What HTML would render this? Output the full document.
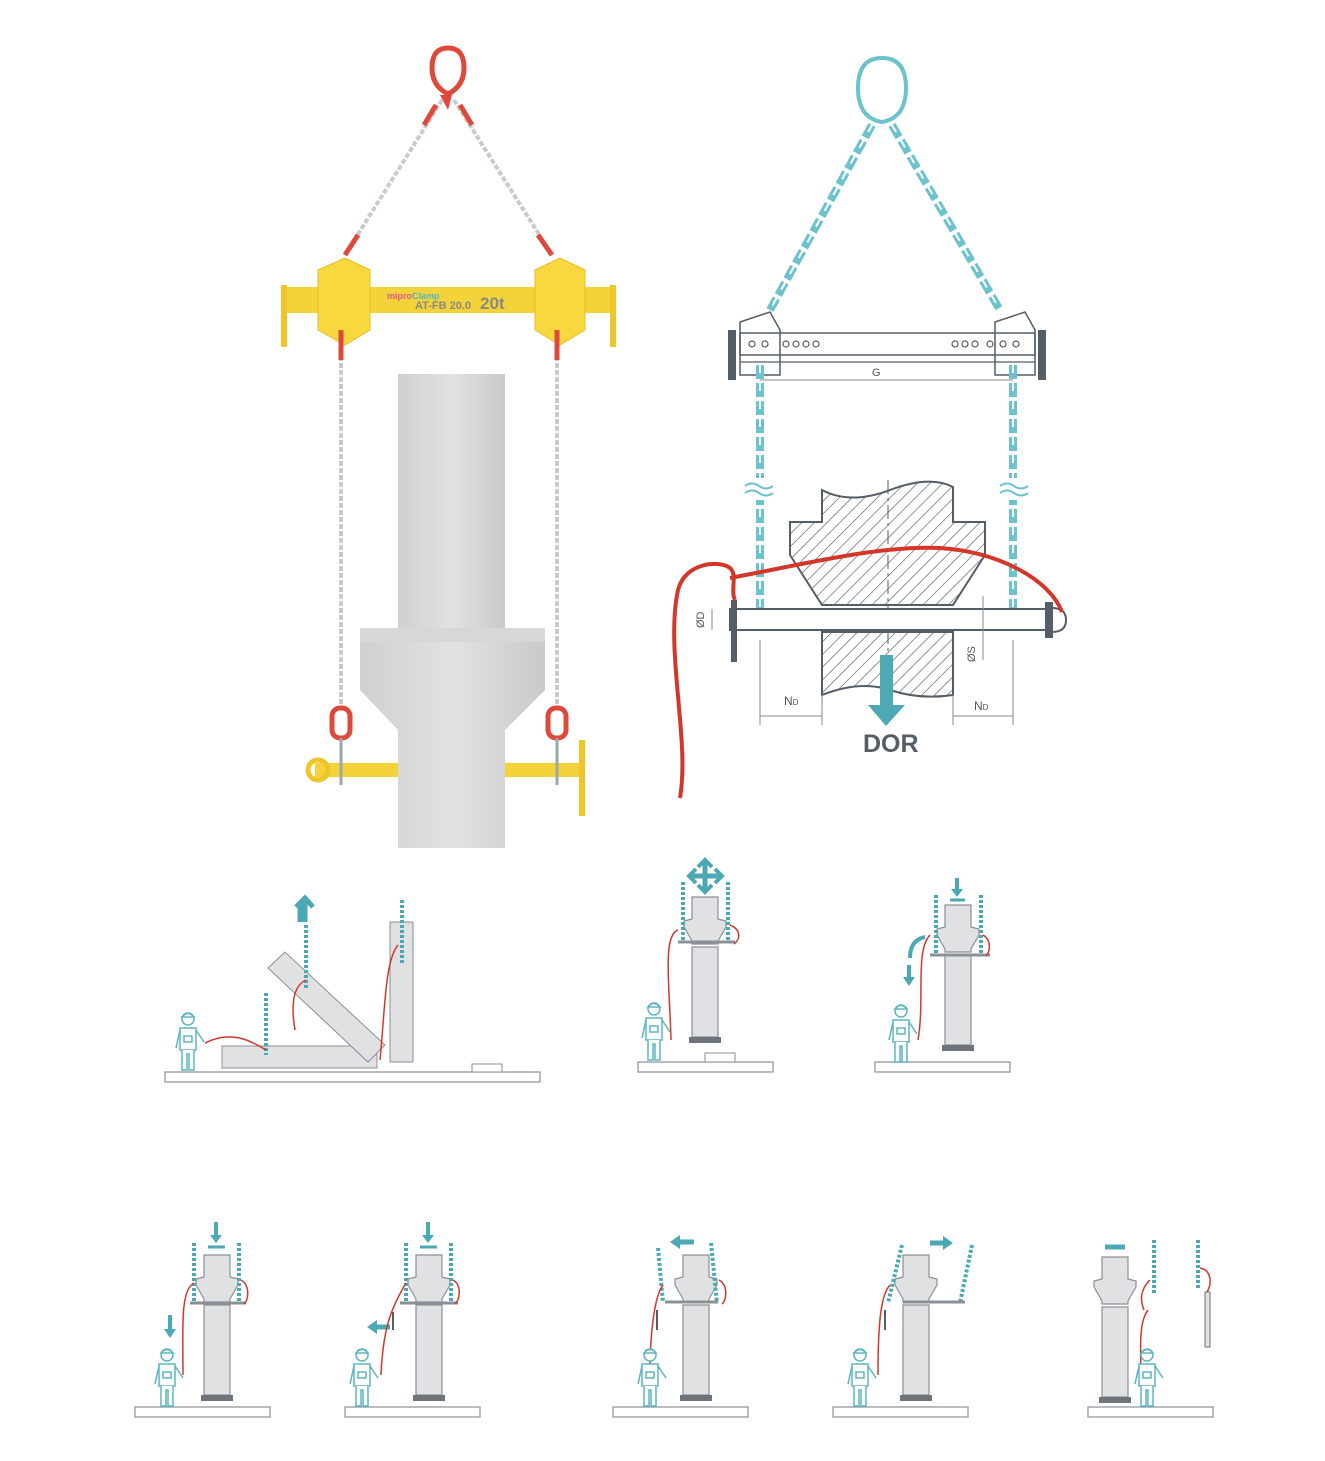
<!DOCTYPE html>
<html><head><meta charset="utf-8"><style>
html,body{margin:0;padding:0;background:#fff;}
svg{display:block;font-family:"Liberation Sans",sans-serif;}
</style></head><body>
<svg width="1325" height="1461" viewBox="0 0 1325 1461" xmlns="http://www.w3.org/2000/svg">
<defs>
<pattern id="hatch" width="9" height="9" patternUnits="userSpaceOnUse" patternTransform="rotate(45)">
<rect width="9" height="9" fill="#fff"/><line x1="0" y1="0" x2="0" y2="9" stroke="#555d66" stroke-width="1.3"/>
</pattern>
<linearGradient id="conc" x1="0" x2="1"><stop offset="0" stop-color="#cfd0cf"/><stop offset="0.5" stop-color="#e2e2e1"/><stop offset="1" stop-color="#c9cac9"/></linearGradient>
<g id="col">
<path d="M0 0H26V22L34 24V30L26 44V47H0V44L-8 30V24L0 22Z" fill="#dfe1e3" stroke="#8a9096" stroke-width="1.2"/>
<rect x="0" y="50" width="26" height="90" fill="#dfe1e3" stroke="#8a9096" stroke-width="1.2"/>
<rect x="-3" y="140" width="32" height="6" fill="#6e747a"/>
</g>
<g id="worker" fill="#fff" stroke="#5bb5c1" stroke-width="1.5">
<circle cx="12" cy="9" r="6"/><path d="M6 7 Q12 0 18 7Z"/>
<path d="M4 18 H20 V40 H4Z"/><path d="M6 40 V60 H11 V44 H13 V60 H18 V40"/>
<path d="M4 20 L0 38 M20 20 L28 32"/><rect x="8" y="26" width="8" height="6"/>
</g>
<g id="base"><rect x="0" y="0" width="135" height="10" fill="#fff" stroke="#8a9096" stroke-width="1.2"/></g>
</defs>

<!-- ===== Top left photo ===== -->
<g>
<path d="M448 48 q-16 0 -16 20 q0 18 16 26 q16 -8 16 -26 q0 -20 -16 -20z" fill="none" stroke="#e0483c" stroke-width="5"/>
<path d="M440 95 L452 95 L448 110Z" fill="#e0483c"/>
<line x1="442" y1="100" x2="345" y2="255" stroke="#c8ccd0" stroke-width="4" stroke-dasharray="5 2"/>
<line x1="454" y1="100" x2="552" y2="255" stroke="#c8ccd0" stroke-width="4" stroke-dasharray="5 2"/>
<line x1="436" y1="105" x2="424" y2="125" stroke="#e0483c" stroke-width="5"/>
<line x1="460" y1="105" x2="472" y2="125" stroke="#e0483c" stroke-width="5"/>
<line x1="345" y1="255" x2="358" y2="235" stroke="#e0483c" stroke-width="5"/>
<line x1="552" y1="255" x2="538" y2="235" stroke="#e0483c" stroke-width="5"/>
<rect x="283" y="287" width="332" height="26" fill="#f4d23a"/>
<rect x="281" y="285" width="6" height="62" fill="#efc629"/>
<rect x="610" y="285" width="6" height="62" fill="#efc629"/>
<path d="M318 270 L345 258 L370 270 V330 L345 345 L318 330Z" fill="#f7d83f" stroke="#e7bd22"/>
<path d="M535 270 L560 258 L585 270 V330 L560 345 L535 330Z" fill="#f7d83f" stroke="#e7bd22"/>
<text x="387" y="299" font-size="9" font-weight="bold" fill="#e35a8a">mipro<tspan fill="#4fb8c8">Clamp</tspan></text>
<text x="415" y="309" font-size="11" font-weight="bold" fill="#8a8a80">AT-FB 20.0</text>
<text x="480" y="309" font-size="17" font-weight="bold" fill="#8a8a80">20t</text>
<line x1="341" y1="335" x2="341" y2="710" stroke="#c8ccd0" stroke-width="4" stroke-dasharray="5 2"/>
<line x1="557" y1="335" x2="557" y2="710" stroke="#c8ccd0" stroke-width="4" stroke-dasharray="5 2"/>
<line x1="341" y1="330" x2="341" y2="360" stroke="#e0483c" stroke-width="5"/>
<line x1="557" y1="330" x2="557" y2="360" stroke="#e0483c" stroke-width="5"/>
<rect x="398" y="374" width="107" height="474" fill="url(#conc)"/>
<path d="M360 628 H545 V690 L505 730 V848 H398 V730 L360 690Z" fill="url(#conc)"/>
<rect x="360" y="628" width="185" height="14" fill="#d6d7d6"/>
<rect x="332" y="708" width="18" height="30" rx="8" fill="none" stroke="#e0483c" stroke-width="5"/>
<rect x="548" y="708" width="18" height="30" rx="8" fill="none" stroke="#e0483c" stroke-width="5"/>
<rect x="315" y="763" width="83" height="14" fill="#f4d23a"/>
<rect x="505" y="763" width="80" height="14" fill="#f4d23a"/>
<circle cx="318" cy="770" r="10" fill="none" stroke="#efc629" stroke-width="5"/>
<rect x="579" y="740" width="6" height="76" fill="#efc629"/>
<line x1="341" y1="738" x2="341" y2="785" stroke="#9aa" stroke-width="3"/>
<line x1="557" y1="738" x2="557" y2="785" stroke="#9aa" stroke-width="3"/>
</g>

<!-- ===== Top right technical drawing ===== -->
<g fill="none">
<path d="M882 58 q-24 0 -24 30 q0 30 24 34 q24 -4 24 -34 q0 -30 -24 -30z" stroke="#6cc3cd" stroke-width="4"/>
<line x1="872" y1="125" x2="770" y2="310" stroke="#6cc3cd" stroke-width="8" stroke-dasharray="14 4"/>
<line x1="892" y1="125" x2="1000" y2="310" stroke="#6cc3cd" stroke-width="8" stroke-dasharray="14 4"/>
<line x1="872" y1="125" x2="770" y2="310" stroke="#fff" stroke-width="2" stroke-dasharray="8 10"/>
<line x1="892" y1="125" x2="1000" y2="310" stroke="#fff" stroke-width="2" stroke-dasharray="8 10"/>
<rect x="740" y="333" width="295" height="22" stroke="#555d66" stroke-width="1.5"/>
<line x1="740" y1="362" x2="1035" y2="362" stroke="#555d66" stroke-width="1.2"/>
<line x1="760" y1="380" x2="1013" y2="380" stroke="#888" stroke-width="1"/>
<text x="872" y="376" font-size="11" fill="#555" stroke="none">G</text>
<path d="M740 322 L770 312 L780 330 V375 L740 375Z" stroke="#555d66" stroke-width="1.5"/>
<path d="M995 322 L1025 312 L1035 330 V375 L995 375Z" stroke="#555d66" stroke-width="1.5"/>
<rect x="728" y="330" width="8" height="50" fill="#555d66"/>
<rect x="1038" y="330" width="8" height="50" fill="#555d66"/>
<g stroke="#555d66" stroke-width="1.2"><circle cx="752" cy="344" r="3"/><circle cx="765" cy="344" r="3"/><circle cx="786" cy="344" r="3"/><circle cx="796" cy="344" r="3"/><circle cx="806" cy="344" r="3"/><circle cx="816" cy="344" r="3"/><circle cx="955" cy="344" r="3"/><circle cx="965" cy="344" r="3"/><circle cx="975" cy="344" r="3"/><circle cx="990" cy="344" r="3"/><circle cx="1003" cy="344" r="3"/><circle cx="1016" cy="344" r="3"/></g>
<line x1="760" y1="365" x2="760" y2="620" stroke="#6cc3cd" stroke-width="8" stroke-dasharray="14 4"/>
<line x1="1013" y1="365" x2="1013" y2="620" stroke="#6cc3cd" stroke-width="8" stroke-dasharray="14 4"/>
<line x1="760" y1="365" x2="760" y2="620" stroke="#fff" stroke-width="2" stroke-dasharray="8 10"/>
<line x1="1013" y1="365" x2="1013" y2="620" stroke="#fff" stroke-width="2" stroke-dasharray="8 10"/>
<rect x="748" y="478" width="24" height="22" fill="#fff" stroke="none"/>
<rect x="1001" y="478" width="24" height="22" fill="#fff" stroke="none"/>
<path d="M745 486 q7 -5 14 0 t14 0 M745 493 q7 -5 14 0 t14 0" stroke="#6cc3cd" stroke-width="2"/>
<path d="M1000 486 q7 -5 14 0 t14 0 M1000 493 q7 -5 14 0 t14 0" stroke="#6cc3cd" stroke-width="2"/>
<path d="M822 490 Q850 505 890 490 T953 487 V522 H985 V555 L953 605 H822 L790 555 V522 H822Z" fill="url(#hatch)" stroke="#555d66" stroke-width="2"/>
<path d="M822 632 H953 V695 Q920 700 890 690 T822 695Z" fill="url(#hatch)" stroke="#555d66" stroke-width="2"/>
<line x1="888" y1="480" x2="888" y2="690" stroke="#555d66" stroke-width="1" stroke-dasharray="14 4 3 4"/>
<rect x="730" y="609" width="320" height="21" fill="#fff" stroke="#555d66" stroke-width="2"/>
<rect x="731" y="600" width="6" height="62" fill="#555d66"/>
<path d="M1045 602 h8 v36 h-8z" fill="#555d66"/>
<path d="M1052 608 q14 0 14 12 q0 12 -14 12" stroke="#555d66" stroke-width="2"/>
<g stroke="#888" stroke-width="1">
<line x1="760" y1="640" x2="760" y2="725"/><line x1="822" y1="695" x2="822" y2="725"/>
<line x1="953" y1="695" x2="953" y2="725"/><line x1="1013" y1="640" x2="1013" y2="725"/>
<line x1="760" y1="716" x2="822" y2="716"/><line x1="953" y1="716" x2="1013" y2="716"/>
<line x1="712" y1="609" x2="712" y2="630"/><line x1="983" y1="596" x2="983" y2="660"/>
</g>
<text x="784" y="705" font-size="12" fill="#555" stroke="none">N<tspan font-size="8">D</tspan></text>
<text x="974" y="710" font-size="12" fill="#555" stroke="none">N<tspan font-size="8">D</tspan></text>
<text x="704" y="628" font-size="11" fill="#555" stroke="none" transform="rotate(-90 704 628)">ØD</text>
<text x="975" y="662" font-size="11" fill="#555" stroke="none" transform="rotate(-90 975 662)">ØS</text>
<rect x="880" y="655" width="13" height="50" fill="#4fa9b5" stroke="none"/>
<path d="M868 705 H905 L886 726Z" fill="#4fa9b5" stroke="none"/>
<text x="863" y="752" font-size="25" font-weight="bold" fill="#555d66" stroke="none">DOR</text>
<path d="M680 798 C690 740 665 650 678 590 C685 562 720 560 730 568 C738 575 730 590 735 600 M730 578 C800 565 880 545 940 548 C1000 552 1050 580 1062 612" stroke="#d4372a" stroke-width="4"/>
</g>

<!-- ===== Row 1, panel A (tilting) ===== -->
<g>
<rect x="165" y="1072" width="375" height="10" fill="#fff" stroke="#8a9096" stroke-width="1.2"/>
<rect x="222" y="1046" width="155" height="22" fill="#dfe1e3" stroke="#8a9096"/>
<path d="M268 968 L285 952 L385 1045 L368 1062Z" fill="#dfe1e3" stroke="#8a9096"/>
<rect x="390" y="922" width="23" height="140" fill="#dfe1e3" stroke="#8a9096"/>
<rect x="472" y="1064" width="30" height="8" fill="#fff" stroke="#8a9096"/>
<g stroke="#4aa9b5" stroke-width="4" stroke-dasharray="3 2"><line x1="266" y1="993" x2="266" y2="1055"/><line x1="306" y1="925" x2="306" y2="990"/><line x1="402" y1="900" x2="402" y2="965"/></g>
<path d="M300 922 V903 M296 907 L305 898 L313 907 M305 922 V900" stroke="#4aa9b5" stroke-width="5" fill="none"/>
<path d="M205 1043 C230 1030 250 1040 266 1050 M295 1030 C290 1000 295 985 306 980 M380 1060 C385 1010 385 960 398 945" stroke="#d4372a" stroke-width="1.5" fill="none"/>
<use href="#worker" x="176" y="1010"/>
</g>

<!-- ===== Row 1, panels B,C ===== -->
<use href="#base" x="638" y="1062"/>
<rect x="705" y="1053" width="30" height="9" fill="#fff" stroke="#8a9096"/>
<use href="#col" x="692" y="897"/>
<g stroke="#4aa9b5" stroke-width="4" stroke-dasharray="3 2"><line x1="683" y1="882" x2="683" y2="942"/><line x1="728" y1="882" x2="728" y2="942"/></g>
<line x1="678" y1="942" x2="735" y2="942" stroke="#8a9096" stroke-width="3"/>
<path d="M705 860 V892 M689 876 H722" stroke="#4aa9b5" stroke-width="5"/>
<path d="M698 867 L705 860 L712 867 M698 885 L705 892 L712 885 M696 869 L689 876 L696 883 M715 869 L722 876 L715 883" stroke="#4aa9b5" stroke-width="4" fill="none"/>
<path d="M671 1040 C670 990 662 935 678 930 M730 925 C742 930 740 940 734 944" stroke="#d4372a" stroke-width="1.5" fill="none"/>
<use href="#worker" x="642" y="1000"/>

<use href="#base" x="875" y="1062"/>
<use href="#col" x="945" y="905"/>
<g stroke="#4aa9b5" stroke-width="4" stroke-dasharray="3 2"><line x1="936" y1="895" x2="936" y2="955"/><line x1="981" y1="895" x2="981" y2="955"/></g>
<line x1="930" y1="955" x2="990" y2="955" stroke="#8a9096" stroke-width="3"/>
<path d="M957 878 V890" stroke="#4aa9b5" stroke-width="4"/><path d="M951 889 H963 L957 897Z" fill="#4aa9b5"/>
<path d="M950 900 H965" stroke="#4aa9b5" stroke-width="3"/>
<path d="M910 958 Q910 940 925 937" stroke="#4aa9b5" stroke-width="4" fill="none"/>
<path d="M909 965 V978" stroke="#4aa9b5" stroke-width="4"/><path d="M903 977 H915 L909 986Z" fill="#4aa9b5"/>
<path d="M918 1040 C925 1000 915 950 930 935 M983 935 C992 940 990 952 986 956" stroke="#d4372a" stroke-width="1.5" fill="none"/>
<use href="#worker" x="889" y="1002"/>

<!-- ===== Row 2 ===== -->
<use href="#base" x="135" y="1407"/>
<use href="#col" x="204" y="1255"/>
<g stroke="#4aa9b5" stroke-width="4" stroke-dasharray="3 2"><line x1="194" y1="1243" x2="194" y2="1303"/><line x1="239" y1="1243" x2="239" y2="1303"/></g>
<line x1="190" y1="1303" x2="246" y2="1303" stroke="#8a9096" stroke-width="3"/>
<path d="M216 1222 V1236" stroke="#4aa9b5" stroke-width="4"/><path d="M210 1235 H222 L216 1243Z" fill="#4aa9b5"/>
<path d="M208 1247 H225" stroke="#4aa9b5" stroke-width="3"/>
<path d="M170 1315 V1330" stroke="#4aa9b5" stroke-width="4"/><path d="M164 1329 H176 L170 1338Z" fill="#4aa9b5"/>
<path d="M183 1375 C183 1330 180 1290 194 1283 M241 1280 C250 1285 249 1300 244 1304" stroke="#d4372a" stroke-width="1.5" fill="none"/>
<use href="#worker" x="155" y="1346"/>

<use href="#base" x="345" y="1407"/>
<use href="#col" x="416" y="1255"/>
<g stroke="#4aa9b5" stroke-width="4" stroke-dasharray="3 2"><line x1="406" y1="1243" x2="406" y2="1303"/><line x1="451" y1="1243" x2="451" y2="1303"/></g>
<line x1="400" y1="1303" x2="458" y2="1303" stroke="#8a9096" stroke-width="3"/>
<path d="M428 1222 V1236" stroke="#4aa9b5" stroke-width="4"/><path d="M422 1235 H434 L428 1243Z" fill="#4aa9b5"/>
<path d="M420 1247 H437" stroke="#4aa9b5" stroke-width="3"/>
<path d="M376 1327 H390" stroke="#4aa9b5" stroke-width="5"/><path d="M377 1320 V1334 L367 1327Z" fill="#4aa9b5"/>
<path d="M393 1312 V1330" stroke="#555d66" stroke-width="2"/>
<path d="M381 1375 C383 1330 390 1310 406 1283 M453 1280 C462 1285 460 1300 455 1304" stroke="#d4372a" stroke-width="1.5" fill="none"/>
<use href="#worker" x="350" y="1346"/>

<use href="#base" x="613" y="1407"/>
<use href="#col" x="683" y="1255"/>
<g stroke="#4aa9b5" stroke-width="4" stroke-dasharray="3 2"><line x1="658" y1="1248" x2="663" y2="1303"/><line x1="711" y1="1243" x2="717" y2="1303"/></g>
<line x1="665" y1="1302" x2="718" y2="1302" stroke="#8a9096" stroke-width="3"/>
<path d="M679 1242 H694" stroke="#4aa9b5" stroke-width="5"/><path d="M680 1235 V1249 L670 1242Z" fill="#4aa9b5"/>
<path d="M657 1310 V1330" stroke="#555d66" stroke-width="2"/>
<path d="M650 1375 C650 1330 655 1295 663 1285 M719 1280 C728 1285 727 1300 722 1304" stroke="#d4372a" stroke-width="1.5" fill="none"/>
<use href="#worker" x="638" y="1346"/>

<use href="#base" x="833" y="1407"/>
<use href="#col" x="903" y="1255"/>
<g stroke="#4aa9b5" stroke-width="4" stroke-dasharray="3 2"><line x1="902" y1="1245" x2="888" y2="1303"/><line x1="972" y1="1245" x2="960" y2="1303"/></g>
<line x1="903" y1="1302" x2="965" y2="1302" stroke="#8a9096" stroke-width="3"/>
<path d="M930 1243 H944" stroke="#4aa9b5" stroke-width="5"/><path d="M943 1236 V1250 L953 1243Z" fill="#4aa9b5"/>
<path d="M885 1310 V1330" stroke="#555d66" stroke-width="2"/>
<path d="M878 1375 C878 1330 880 1295 890 1285" stroke="#d4372a" stroke-width="1.5" fill="none"/>
<use href="#worker" x="848" y="1346"/>

<rect x="1088" y="1407" width="125" height="10" fill="#fff" stroke="#8a9096" stroke-width="1.2"/>
<use href="#col" x="1102" y="1257"/>
<line x1="1105" y1="1247" x2="1125" y2="1247" stroke="#4aa9b5" stroke-width="5"/>
<g stroke="#4aa9b5" stroke-width="4" stroke-dasharray="3 2"><line x1="1154" y1="1240" x2="1154" y2="1295"/><line x1="1198" y1="1240" x2="1198" y2="1290"/></g>
<rect x="1205" y="1292" width="5" height="55" fill="#dfe1e3" stroke="#6e747a"/>
<path d="M1141 1375 C1140 1340 1140 1320 1148 1310 M1150 1280 C1140 1290 1140 1300 1144 1310 M1200 1268 C1212 1270 1212 1285 1207 1292" stroke="#d4372a" stroke-width="1.5" fill="none"/>
<use href="#worker" x="1135" y="1346"/>
</svg>
</body></html>
